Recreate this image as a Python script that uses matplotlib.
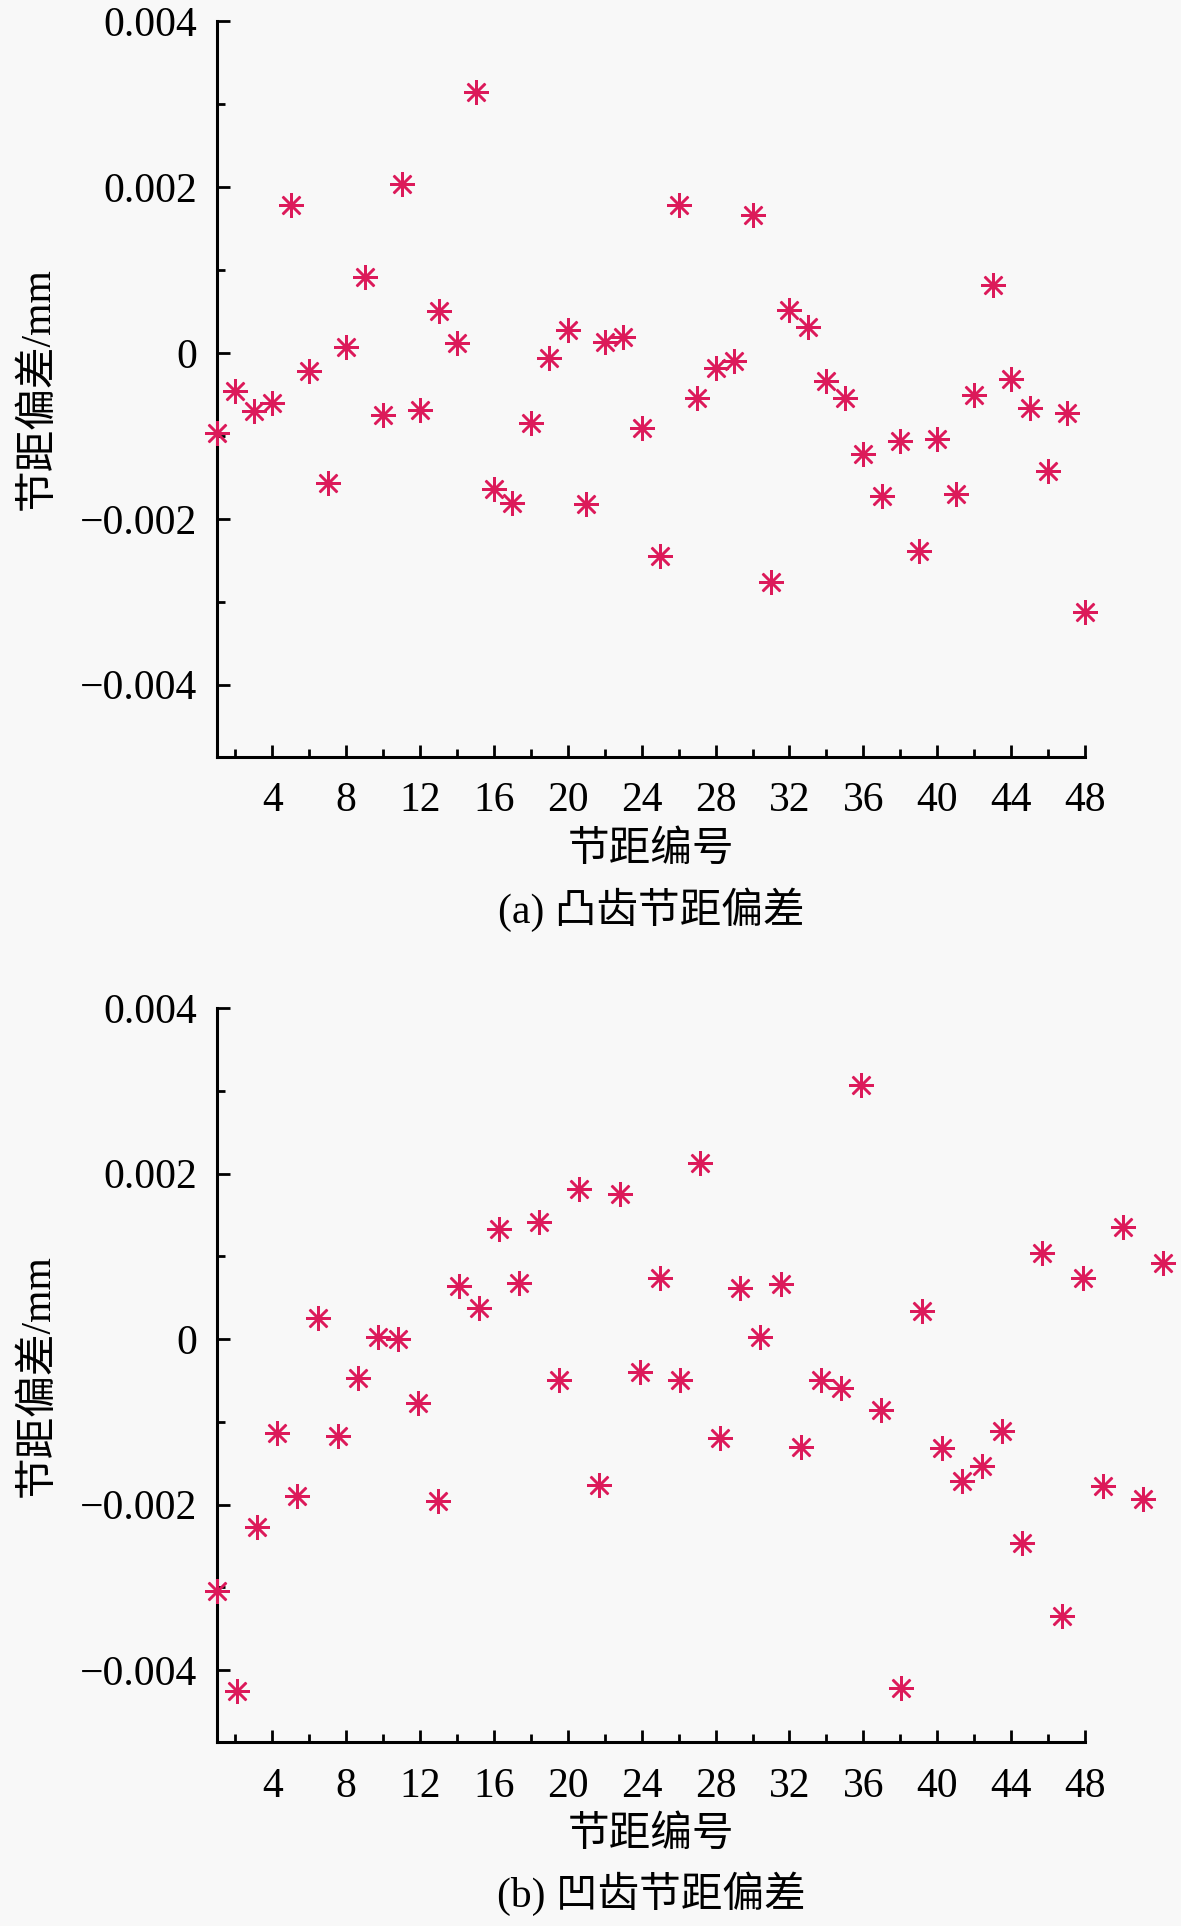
import numpy as np
import matplotlib
matplotlib.use("Agg")
import matplotlib.pyplot as plt
from matplotlib.ticker import MultipleLocator, FixedLocator

plt.rcParams['font.family'] = ['Liberation Serif', 'Noto Sans CJK SC']
plt.rcParams['axes.unicode_minus'] = True

# pitch deviation values, unit 0.001 mm
convex_dev = [-0.97, -0.46, -0.70, -0.61, 1.78, -0.22, -1.57, 0.07, 0.91, -0.75,
              2.03, -0.69, 0.51, 0.12, 3.15, -1.64, -1.81, -0.84, -0.06, 0.27,
              -1.82, 0.13, 0.19, -0.90, -2.45, 1.78, -0.54, -0.18, -0.10, 1.66,
              -2.76, 0.52, 0.31, -0.34, -0.54, -1.22, -1.72, -1.06, -2.39, -1.04,
              -1.70, -0.51, 0.82, -0.31, -0.66, -1.42, -0.73, -3.12]
concave_dev = [-3.04, -4.25, -2.27, -1.14, -1.90, 0.25, -1.17, -0.47, 0.03, 0.00,
               -0.77, -1.96, 0.64, 0.37, 1.33, 0.68, 1.41, -0.50, 1.81, -1.76,
               1.75, -0.40, 0.74, -0.49, 2.13, -1.19, 0.62, 0.03, 0.67, -1.30,
               -0.50, -0.59, 3.07, -0.86, -4.22, 0.34, -1.32, -1.72, -1.53, -1.11,
               -2.47, 1.04, -3.35, 0.74, -1.78, 1.36, -1.93, 0.92]
pitch_no = np.arange(1, 49)
# the concave series was drawn on a wider spacing in the original
concave_step = 1.09

captions = ['(a) 凸齿节距偏差', '(b) 凹齿节距偏差']
xlabel = '节距编号'
ylabel = '节距偏差/mm'
yticks = [-0.004, -0.002, 0, 0.002, 0.004]
yticklabels = ['\u22120.004', '\u22120.002', '0', '0.002', '0.004']
xticks = list(range(4, 49, 4))

bg = '#f8f8f8'
mk_color = '#dc1a5a'
fs = 30

fig = plt.figure(figsize=(11.81, 19.26), dpi=100, facecolor=bg)
ax_top = fig.add_axes([0.1837, 0.6070, 0.7350, 0.3821])
ax_bot = fig.add_axes([0.1837, 0.0955, 0.7350, 0.3811])

x_bot = 1 + (pitch_no - 1) * concave_step
series = [(ax_top, pitch_no, convex_dev), (ax_bot, x_bot, concave_dev)]

for k, (ax, xs, vals) in enumerate(series):
    ax.set_facecolor(bg)
    ys = np.array(vals) * 1e-3
    ax.plot(xs, ys, linestyle='none', marker=(8, 2, 0), markersize=18,
            markeredgewidth=1.8, color=mk_color, clip_on=False, zorder=3)
    ax.set_xlim(1, 48)
    ax.set_ylim(-0.00487, 0.004)
    ax.spines['top'].set_visible(False)
    ax.spines['right'].set_visible(False)
    ax.spines['left'].set_linewidth(2.2)
    ax.spines['bottom'].set_linewidth(2.2)
    ax.xaxis.set_major_locator(FixedLocator(xticks))
    ax.xaxis.set_minor_locator(MultipleLocator(2))
    ax.yaxis.set_major_locator(FixedLocator(yticks))
    ax.yaxis.set_minor_locator(MultipleLocator(0.001))
    ax.set_yticklabels(yticklabels)
    ax.tick_params(which='both', direction='in', width=2, labelsize=fs)
    ax.tick_params(which='major', length=9, pad=14)
    ax.tick_params(axis='x', which='major', pad=18)
    ax.tick_params(which='minor', length=6)
    ax.set_xlabel(xlabel, fontsize=fs, labelpad=8)
    ax.set_ylabel(ylabel, fontsize=fs, labelpad=16)
    ax.text(0.5, -0.207, captions[k], transform=ax.transAxes, ha='center',
            va='center', fontsize=fs)

fig.savefig('out.png', dpi=100, facecolor=bg)
